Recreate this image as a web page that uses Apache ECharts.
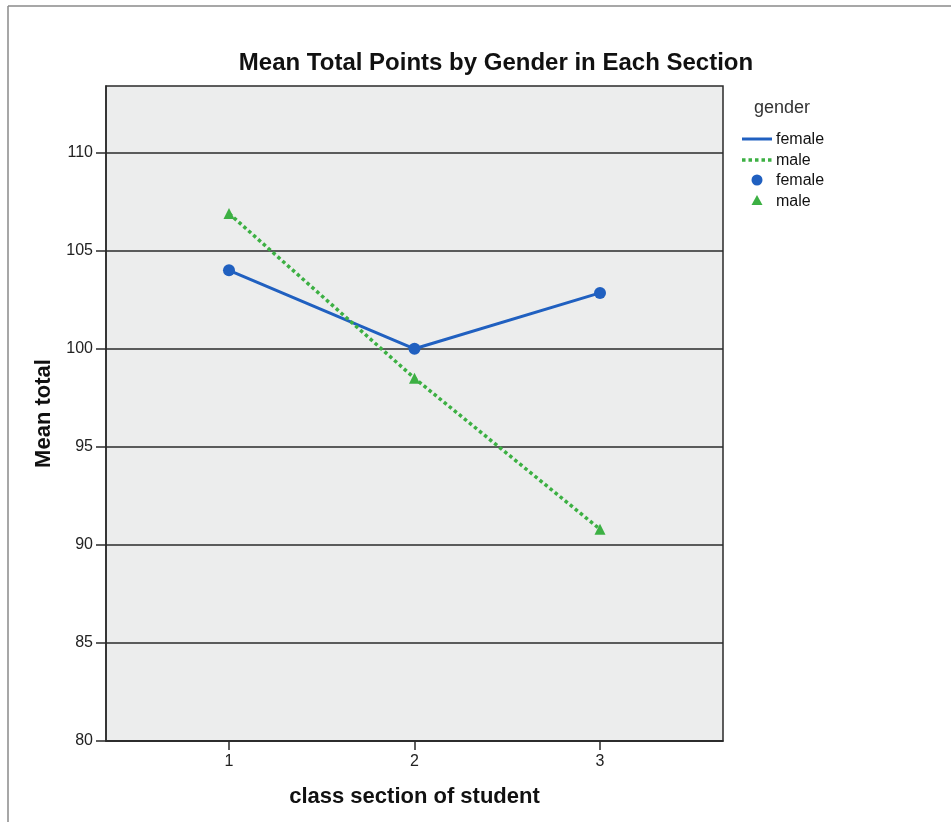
<!DOCTYPE html>
<html>
<head>
<meta charset="utf-8">
<script src="https://cdn.jsdelivr.net/npm/echarts@6/dist/echarts.min.js"></script>
<style>
  html, body { margin: 0; padding: 0; background: #ffffff; }
  #chart { width: 951px; height: 825px; }
</style>
</head>
<body>
<div id="chart"></div>
<script>
// Class sections on the x axis
const sections = [1, 2, 3];
// Mean total points per section
const femaleMeans = [104.0, 100.0, 102.85];
const maleMeans = [106.9, 98.5, 90.8];
// Y axis tick labels
const yTicks = [80, 85, 90, 95, 100, 105, 110];

const FONT = '"Liberation Sans", Arial, sans-serif';
const BLUE = '#2060c0';
const GREEN = '#3cb043';

const chart = echarts.init(document.getElementById('chart'), null, { renderer: 'canvas' });

const femalePts = sections.map((s, i) => [s, femaleMeans[i]]);
const malePts = sections.map((s, i) => [s, maleMeans[i]]);

chart.setOption({
  backgroundColor: '#ffffff',
  animation: false,
  title: {
    text: 'Mean Total Points by Gender in Each Section',
    left: 491,
    top: 46,
    textAlign: 'center',
    textStyle: { fontFamily: FONT, fontSize: 24, fontWeight: 'bold', color: '#111' }
  },
  grid: {
    left: 106, right: 228, top: 86, bottom: 84,
    show: true,
    backgroundColor: '#eceded',
    borderColor: '#2a2a2a',
    borderWidth: 1.5
  },
  xAxis: {
    type: 'value',
    min: 0.337,
    max: 3.663,
    name: 'class section of student',
    nameLocation: 'middle',
    nameGap: 45,
    nameTextStyle: { fontFamily: FONT, fontSize: 22, fontWeight: 'bold', color: '#111' },
    axisLine: { show: true, lineStyle: { color: '#2a2a2a', width: 1.5 } },
    axisTick: { show: true, customValues: sections, length: 9, lineStyle: { color: '#2a2a2a', width: 1.5 } },
    axisLabel: { customValues: sections, fontFamily: FONT, fontSize: 16, color: '#222', margin: 13 },
    splitLine: { show: false }
  },
  yAxis: {
    type: 'value',
    min: 80,
    max: 113.4,
    name: 'Mean total',
    nameLocation: 'middle',
    nameGap: 51,
    nameTextStyle: { fontFamily: FONT, fontSize: 22, fontWeight: 'bold', color: '#111' },
    axisLine: { show: true, lineStyle: { color: '#2a2a2a', width: 1.5 } },
    axisTick: { show: true, customValues: yTicks, length: 10, lineStyle: { color: '#2a2a2a', width: 1.5 } },
    axisLabel: { customValues: yTicks, fontFamily: FONT, fontSize: 16, color: '#222', margin: 13 },
    interval: 5,
    splitLine: { show: true, lineStyle: { color: '#2a2a2a', width: 1.5 } }
  },
  series: [
    {
      name: 'female',
      type: 'line',
      data: femalePts,
      symbol: 'circle',
      symbolSize: 12,
      itemStyle: { color: BLUE },
      lineStyle: { color: BLUE, width: 3 },
      z: 3
    },
    {
      name: 'male',
      type: 'line',
      data: malePts,
      symbol: 'triangle',
      symbolSize: 11,
      itemStyle: { color: GREEN },
      lineStyle: { color: GREEN, width: 3.5, type: [3.5, 3], cap: 'butt' },
      z: 4
    }
  ],
  graphic: [
    // outer frame (left and top edges)
    { type: 'line', shape: { x1: 8, y1: 6, x2: 8, y2: 822 }, style: { stroke: '#8a8a8a', lineWidth: 1.5 } },
    { type: 'line', shape: { x1: 8, y1: 6, x2: 951, y2: 6 }, style: { stroke: '#8a8a8a', lineWidth: 1.5 } },
    // legend
    { type: 'text', left: 754, top: 99, style: { text: 'gender', font: '18px ' + FONT, fill: '#333' } },
    { type: 'line', shape: { x1: 742, y1: 139, x2: 772, y2: 139 }, style: { stroke: BLUE, lineWidth: 3 } },
    { type: 'text', left: 776, top: 132, style: { text: 'female', font: '16px ' + FONT, fill: '#111' } },
    { type: 'line', shape: { x1: 742, y1: 160, x2: 772, y2: 160 }, style: { stroke: GREEN, lineWidth: 3.5, lineDash: [3.5, 3] } },
    { type: 'text', left: 776, top: 153, style: { text: 'male', font: '16px ' + FONT, fill: '#111' } },
    { type: 'circle', shape: { cx: 757, cy: 180, r: 5.5 }, style: { fill: BLUE } },
    { type: 'text', left: 776, top: 173, style: { text: 'female', font: '16px ' + FONT, fill: '#111' } },
    { type: 'polygon', shape: { points: [[757, 195], [762.5, 205], [751.5, 205]] }, style: { fill: GREEN } },
    { type: 'text', left: 776, top: 194, style: { text: 'male', font: '16px ' + FONT, fill: '#111' } }
  ]
});
</script>
</body>
</html>
